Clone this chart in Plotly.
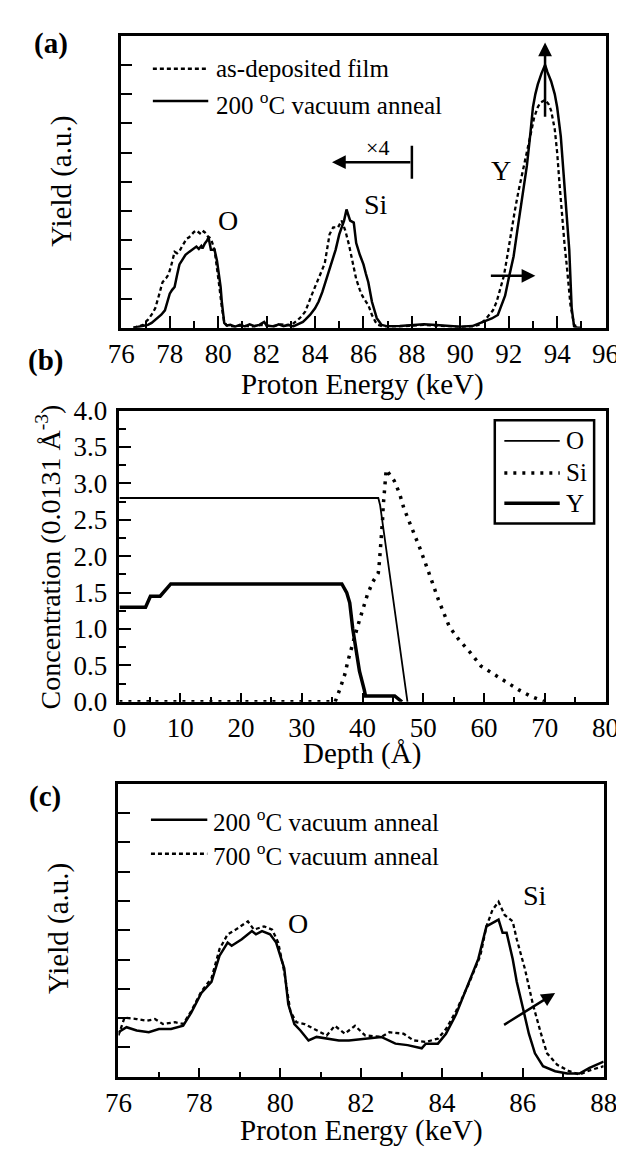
import plotly.graph_objects as go

# ---------------- DATA ----------------
# Panel (a): proton energy spectra (yield in arbitrary units, 0-10 scale)
a_dep_E = [76.5, 76.7, 76.9, 77.0, 77.1, 77.25, 77.4, 77.55, 77.7, 77.85, 77.95, 78.05, 78.1, 78.2, 78.3,
           78.4, 78.5, 78.6, 78.7, 78.8, 78.9, 79.0, 79.1, 79.2, 79.3, 79.4, 79.45, 79.55, 79.7, 79.85,
           79.95, 80.05, 80.15, 80.25, 80.35, 80.6, 81.0, 81.4, 81.8, 82.2, 82.6, 83.0, 83.3, 83.45, 83.6,
           83.75, 83.85, 84.0, 84.15, 84.3, 84.4, 84.5, 84.6, 84.75, 84.95, 85.1, 85.25, 85.4, 85.5, 85.6,
           85.7, 85.85, 85.95, 86.1, 86.2, 86.35, 86.5, 86.6, 86.8, 87.5, 88.0, 88.5, 89.0, 89.5, 90.0,
           90.5, 90.75, 91.0, 91.15, 91.35, 91.5, 91.65, 91.8, 91.95, 92.1, 92.25, 92.4, 92.6, 92.75, 92.9,
           93.05, 93.2, 93.3, 93.5, 93.65, 93.75, 93.9, 94.0, 94.1, 94.2, 94.3, 94.4, 94.55, 94.7, 94.9]
a_dep_Y = [0.0, 0.05, 0.1, 0.2, 0.28, 0.45, 0.67, 1.1, 1.56, 1.7, 1.83, 2.1, 2.28, 2.6, 2.55,
           2.62, 2.78, 2.9, 3.05, 3.1, 3.2, 3.28, 3.33, 3.25, 3.2, 3.3, 3.27, 3.15, 3.05, 2.67,
           2.1, 1.4, 0.7, 0.2, 0.08, 0.05, 0.08, 0.04, 0.1, 0.05, 0.12, 0.08, 0.28, 0.4, 0.56,
           0.85, 1.1, 1.4, 1.67, 2.0, 2.2, 2.7, 3.2, 3.44, 3.44, 3.67, 3.33, 2.85, 2.44, 2.05,
           1.67, 1.3, 1.1, 0.9, 0.78, 0.44, 0.2, 0.1, 0.05, 0.05, 0.08, 0.1, 0.08, 0.05, 0.03,
           0.05, 0.1, 0.25, 0.39, 0.6, 0.89, 1.3, 1.78, 2.5, 3.33, 4.0, 4.67, 5.4, 6.0, 6.6,
           7.2, 7.55, 7.7, 7.8, 7.65, 7.44, 6.8, 6.0, 4.9, 3.8, 2.9, 2.1, 0.78, 0.1, 0.0]

a_200_E = [76.5, 76.7, 76.9, 77.1, 77.25, 77.5, 77.65, 77.8, 77.9, 78.0, 78.1, 78.2, 78.3, 78.4, 78.5,
           78.65, 78.8, 78.9, 79.0, 79.1, 79.2, 79.3, 79.35, 79.45, 79.55, 79.6, 79.7, 79.85, 79.95, 80.0,
           80.1, 80.15, 80.25, 80.35, 80.5, 80.7, 80.9, 81.1, 81.3, 81.5, 81.7, 81.9, 82.0, 82.3, 82.5,
           82.7, 82.9, 83.1, 83.3, 83.5, 83.6, 83.8, 84.0, 84.15, 84.3, 84.45, 84.6, 84.75, 84.85, 85.0,
           85.1, 85.2, 85.3, 85.38, 85.45, 85.6, 85.7, 85.85, 86.0, 86.1, 86.2, 86.35, 86.45, 86.55, 86.75,
           87.0, 87.5, 88.0, 88.5, 89.0, 89.5, 90.0, 90.5, 91.0, 91.3, 91.55, 91.7, 91.85, 92.0, 92.2,
           92.35, 92.5, 92.65, 92.75, 92.9, 93.0, 93.1, 93.2, 93.35, 93.5, 93.6, 93.75, 93.9, 94.0, 94.15,
           94.3, 94.4, 94.5, 94.6, 94.7, 94.85, 95.0]
a_200_Y = [0.0, 0.03, 0.08, 0.1, 0.17, 0.35, 0.45, 0.6, 0.9, 1.17, 1.3, 1.4, 1.8, 2.17, 2.3,
           2.5, 2.6, 2.67, 2.72, 2.78, 2.7, 2.8, 2.72, 2.89, 3.0, 3.1, 2.67, 2.67, 2.3, 2.0,
           1.4, 0.89, 0.17, 0.08, 0.1, 0.04, 0.1, 0.05, 0.12, 0.06, 0.1, 0.2, 0.08, 0.05, 0.12,
           0.06, 0.1, 0.05, 0.12, 0.2, 0.28, 0.45, 0.67, 0.9, 1.22, 1.6, 2.0, 2.4, 2.67, 3.2,
           3.45, 3.67, 4.05, 3.8, 3.67, 3.6, 2.9, 2.5, 2.17, 1.85, 1.56, 0.89, 0.6, 0.33, 0.1,
           0.05, 0.06, 0.1, 0.12, 0.1, 0.06, 0.04, 0.06, 0.22, 0.32, 0.44, 0.75, 1.1, 1.7, 2.44,
           3.3, 4.1, 4.9, 5.55, 6.7, 7.55, 8.0, 8.33, 8.7, 9.0, 8.75, 8.44, 8.0, 7.55, 6.55,
           4.9, 3.8, 2.67, 0.67, 0.05, 0.0, 0.0]

# Panel (b): concentration depth profiles (units of 0.0131 per cubic angstrom)
b_O_depth = [0, 42.6, 42.9, 47.4]
b_O_conc = [2.8, 2.8, 2.7, 0.0]

b_Si_depth = [0, 35.5, 36.3, 37.1, 37.6, 38.2, 38.8, 39.5, 40.1, 40.8, 41.7, 42.6, 42.8, 43.0, 43.2, 43.3,
              43.4, 43.6, 43.7, 43.9, 45.2, 46.1, 46.8, 47.6, 48.5, 49.4, 50.2, 51.0, 51.7, 52.5, 53.4,
              54.3, 55.9, 57.8, 59.5, 61.6, 63.7, 65.8, 67.6, 70.0]
b_Si_conc = [0, 0, 0.18, 0.38, 0.56, 0.76, 0.92, 1.12, 1.30, 1.47, 1.65, 1.77, 1.94, 2.12, 2.30, 2.50,
             2.68, 2.86, 3.04, 3.19, 3.04, 2.86, 2.66, 2.50, 2.30, 2.12, 1.94, 1.77, 1.59, 1.40, 1.22,
             1.03, 0.85, 0.67, 0.49, 0.38, 0.27, 0.16, 0.08, 0.0]

b_Y_depth = [0, 4.3, 5.1, 6.7, 8.45, 36.6, 37.4, 37.9, 38.4, 38.9, 39.5, 40.3, 40.5, 45.3, 46.05, 46.5]
b_Y_conc = [1.3, 1.3, 1.45, 1.45, 1.62, 1.62, 1.50, 1.36, 1.0, 0.74, 0.42, 0.16, 0.08, 0.08, 0.02, 0.0]

# Panel (c): proton energy spectra after 200 C and 700 C anneals
c_200_E = [76.0, 76.2, 76.45, 76.75, 77.0, 77.3, 77.6, 77.8, 78.05, 78.3, 78.5, 78.7, 78.8, 79.05, 79.3,
           79.4, 79.55, 79.75, 79.9, 80.1, 80.2, 80.35, 80.5, 80.7, 80.9, 81.15, 81.45, 81.7, 82.1, 82.5,
           82.85, 83.15, 83.5, 83.6, 83.9, 84.1, 84.35, 84.65, 84.9, 85.1, 85.3, 85.4, 85.5, 85.6, 85.75,
           85.85, 86.0, 86.15, 86.3, 86.5, 86.8, 87.1, 87.4, 87.65, 88.0]
c_200_Y = [1.52, 1.69, 1.58, 1.52, 1.63, 1.63, 1.74, 2.19, 2.86, 3.24, 4.13, 4.58, 4.47, 4.69, 4.97,
           4.86, 4.97, 4.86, 4.58, 3.7, 2.47, 1.8, 1.58, 1.24, 1.36, 1.3, 1.24, 1.24, 1.3, 1.36,
           1.13, 1.08, 0.97, 1.13, 1.13, 1.47, 2.13, 3.13, 4.02, 5.13, 5.3, 5.36, 4.91, 4.91, 4.02,
           3.24, 2.36, 1.47, 0.8, 0.36, 0.19, 0.11, 0.11, 0.3, 0.52]

c_700_E = [76.0, 76.15, 76.45, 76.7, 76.9, 77.1, 77.4, 77.6, 77.8, 78.05, 78.3, 78.5, 78.7, 78.9, 79.2,
           79.35, 79.6, 79.8, 79.95, 80.1, 80.25, 80.4, 80.6, 80.9, 81.15, 81.35, 81.6, 81.85, 82.1, 82.5,
           82.7, 83.05, 83.3, 83.6, 83.9, 84.1, 84.35, 84.65, 84.95, 85.1, 85.25, 85.4, 85.55, 85.75, 85.85,
           86.05, 86.25, 86.45, 86.6, 86.85, 87.15, 87.4, 87.7, 88.0]
c_700_Y = [1.41, 2.02, 1.97, 1.91, 1.97, 1.8, 1.86, 1.8, 2.24, 2.91, 3.36, 4.36, 4.86, 5.02, 5.3,
           5.02, 5.13, 5.02, 4.58, 3.58, 2.24, 1.86, 1.8, 1.58, 1.41, 1.74, 1.47, 1.74, 1.41, 1.36,
           1.52, 1.47, 1.24, 1.19, 1.3, 1.63, 2.24, 3.13, 4.13, 5.13, 5.69, 5.97, 5.52, 5.3, 4.69,
           3.69, 2.47, 1.47, 0.8, 0.41, 0.19, 0.08, 0.24, 0.36]

a_xticks = [76, 78, 80, 82, 84, 86, 88, 90, 92, 94, 96]
b_xticks = [0, 10, 20, 30, 40, 50, 60, 70, 80]
b_yticks = [0.0, 0.5, 1.0, 1.5, 2.0, 2.5, 3.0, 3.5, 4.0]
c_xticks = [76, 78, 80, 82, 84, 86, 88]

# ---------------- FIGURE ----------------
W, H = 624, 1150
FONT = "Liberation Serif, Times New Roman, serif"
BLACK = "black"
DASH = "4px,3px"
DOT = "3px,6px"


def px(x):
    return x / W


def py(y):
    return 1 - y / H


fig = go.Figure()

# (a)
fig.add_trace(go.Scatter(x=a_dep_E, y=a_dep_Y, mode="lines", name="as-deposited film",
                         line=dict(color=BLACK, width=2.3, dash=DASH), xaxis="x", yaxis="y"))
fig.add_trace(go.Scatter(x=a_200_E, y=a_200_Y, mode="lines", name="200 °C vacuum anneal",
                         line=dict(color=BLACK, width=2.5), xaxis="x", yaxis="y"))
# (b)
fig.add_trace(go.Scatter(x=b_O_depth, y=b_O_conc, mode="lines", name="O",
                         line=dict(color=BLACK, width=1.8), xaxis="x2", yaxis="y2"))
fig.add_trace(go.Scatter(x=b_Si_depth, y=b_Si_conc, mode="lines", name="Si",
                         line=dict(color=BLACK, width=3.5, dash=DOT), xaxis="x2", yaxis="y2"))
fig.add_trace(go.Scatter(x=b_Y_depth, y=b_Y_conc, mode="lines", name="Y",
                         line=dict(color=BLACK, width=3.5), xaxis="x2", yaxis="y2"))
# (c)
fig.add_trace(go.Scatter(x=c_200_E, y=c_200_Y, mode="lines", name="200 °C vacuum anneal",
                         line=dict(color=BLACK, width=2.5), xaxis="x3", yaxis="y3"))
fig.add_trace(go.Scatter(x=c_700_E, y=c_700_Y, mode="lines", name="700 °C vacuum anneal",
                         line=dict(color=BLACK, width=2.3, dash=DASH), xaxis="x3", yaxis="y3"))

tickfont = dict(family=FONT, size=27, color=BLACK)
common = dict(showline=True, linecolor=BLACK, linewidth=2.5, mirror=True, showgrid=False,
              zeroline=False, ticks="inside", tickcolor=BLACK, tickwidth=2, tickfont=tickfont)

fig.update_layout(
    width=W, height=H, margin=dict(l=0, r=0, t=0, b=0),
    paper_bgcolor="white", plot_bgcolor="white", showlegend=False,
    font=dict(family=FONT, color=BLACK),
    xaxis=dict(domain=[px(104), px(611)], range=[76, 96], tickvals=a_xticks, ticklen=12,
               ticklabelstandoff=0, anchor="y",
               minor=dict(dtick=1, tick0=76, ticks="inside", ticklen=7, tickwidth=2, tickcolor=BLACK),
               **common),
    yaxis=dict(domain=[py(313), py(13)], range=[0, 10], dtick=1, tick0=0, ticklen=11,
               showticklabels=False, anchor="x", **common),
    xaxis2=dict(domain=[px(102), px(611)], range=[0, 80], tickvals=b_xticks, ticklen=9,
                ticklabelstandoff=0, anchor="y2",
                minor=dict(dtick=5, tick0=0, ticks="inside", ticklen=5, tickwidth=2, tickcolor=BLACK),
                **common),
    yaxis2=dict(domain=[py(697), py(398)], range=[0, 4], tickvals=b_yticks, ticktext=[f"{v:.1f}" for v in b_yticks],
                ticklen=12, ticklabelstandoff=4, anchor="x2",
                minor=dict(dtick=0.25, tick0=0, ticks="inside", ticklen=7, tickwidth=2, tickcolor=BLACK),
                **common),
    xaxis3=dict(domain=[px(101), px(609)], range=[76, 88], tickvals=c_xticks, ticklen=9,
                ticklabelstandoff=0, anchor="y3",
                minor=dict(dtick=1, tick0=76, ticks="inside", ticklen=5, tickwidth=2, tickcolor=BLACK),
                **common),
    yaxis3=dict(domain=[py(1082), py(781)], range=[0, 10], dtick=1, tick0=0, ticklen=12,
                showticklabels=False, anchor="x3", **common),
)

ann = []
shapes = []


def ptext(text, x, y, size=27, bold=False, angle=0, xanchor="center"):
    ann.append(dict(text=f"<b>{text}</b>" if bold else text, x=px(x), y=py(y), xref="paper", yref="paper",
                    showarrow=False, xanchor=xanchor, yanchor="middle", textangle=angle,
                    font=dict(family=FONT, size=size, color=BLACK)))


def dtext(text, x, y, xr, yr, size=28):
    ann.append(dict(text=text, x=x, y=y, xref=xr, yref=yr, showarrow=False,
                    xanchor="center", yanchor="middle", font=dict(family=FONT, size=size, color=BLACK)))


def arrow(x0, y0, x1, y1, xr, yr):
    ann.append(dict(x=x1, y=y1, ax=x0, ay=y0, xref=xr, yref=yr, axref=xr, ayref=yr, text="",
                    showarrow=True, arrowhead=2, arrowsize=1.1, arrowwidth=2.5, arrowcolor=BLACK))


def legline(x0, x1, y, dash="solid", width=2.5):
    shapes.append(dict(type="line", xref="paper", yref="paper", x0=px(x0), x1=px(x1), y0=py(y), y1=py(y),
                       line=dict(color=BLACK, width=width, dash=dash)))


# panel labels
ptext("(a)", 30, 21, size=29, bold=True)
ptext("(b)", 25, 347, size=29, bold=True)
ptext("(c)", 24, 794, size=29, bold=True)

# axis titles
ptext("Yield (a.u.)", 42, 163, size=29, angle=-90)
ptext("Proton Energy (keV)", 357, 371, size=29)
ptext("Concentration (0.0131 Å<sup>-3</sup>)", 28, 548, size=28, angle=-90)
ptext("Depth (Å)", 356, 750, size=29)
ptext("Yield (a.u.)", 38, 930, size=29, angle=-90)
ptext("Proton Energy (keV)", 355, 1137, size=29)

# legend (a)
legline(137, 195, 47, dash=DASH, width=2.3)
ptext("as-deposited film", 201, 47, size=25, xanchor="left")
legline(137, 195, 80)
ptext("200 <sup>o</sup>C vacuum anneal", 201, 82, size=25, xanchor="left")

# legend (b)
shapes.append(dict(type="rect", xref="paper", yref="paper", x0=px(495), x1=px(599), y0=py(514), y1=py(408),
                   line=dict(color=BLACK, width=2.5), fillcolor="white"))
legline(505, 563, 429, width=1.8)
ptext("O", 567, 429, size=25, xanchor="left")
legline(505, 563, 462, dash=DOT, width=3.5)
ptext("Si", 567, 462, size=25, xanchor="left")
legline(505, 563, 493, width=3.5)
ptext("Y", 567, 493, size=25, xanchor="left")

# legend (c)
legline(135, 194, 818)
ptext("200 <sup>o</sup>C vacuum anneal", 198, 818, size=25, xanchor="left")
legline(135, 194, 853, dash=DASH, width=2.3)
ptext("700 <sup>o</sup>C vacuum anneal", 198, 853, size=25, xanchor="left")

# in-plot labels (a)
dtext("O", 80.39, 3.67, "x", "y")
dtext("Si", 86.52, 4.22, "x", "y")
dtext("Y", 91.68, 5.39, "x", "y")
dtext("×4", 86.6, 6.17, "x", "y", size=22)
arrow(88.0, 5.67, 84.7, 5.67, "x", "y")
shapes.append(dict(type="line", xref="x", yref="y", x0=88, x1=88, y0=5.1, y1=6.23,
                   line=dict(color=BLACK, width=2.5)))
arrow(93.5, 7.17, 93.5, 9.77, "x", "y")
arrow(91.2, 1.78, 93.1, 1.78, "x", "y")

# in-plot labels (c)
dtext("O", 80.45, 5.24, "x3", "y3")
dtext("Si", 86.29, 6.19, "x3", "y3")
arrow(85.5, 1.74, 86.8, 2.86, "x3", "y3")

fig.update_layout(annotations=ann, shapes=shapes)
fig.write_html("out.html")
